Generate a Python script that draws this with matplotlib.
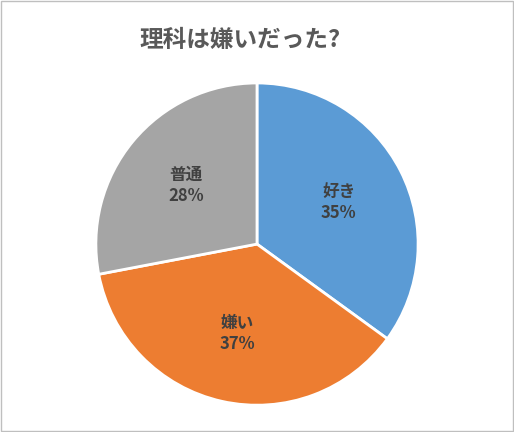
import matplotlib
matplotlib.use("Agg")
import matplotlib.pyplot as plt
from matplotlib.patches import Rectangle

plt.rcParams['font.family'] = ['Noto Sans CJK JP', 'DejaVu Sans']

categories = ["好き", "嫌い", "普通"]
values = [35, 37, 28]
colors = ["#5B9BD5", "#ED7D31", "#A5A5A5"]

fig = plt.figure(figsize=(5.14, 4.32), dpi=100)
fig.patches.append(Rectangle((0.002, 0.002), 0.996, 0.996, transform=fig.transFigure,
                             fill=False, edgecolor="#BFBFBF", linewidth=1))
ax = fig.add_axes([0.5 - 0.315, 0.435 - 0.375, 0.63, 0.75])
labels = [f"{c}\n{v}%" for c, v in zip(categories, values)]
wedges, texts = ax.pie(values, colors=colors, startangle=90, counterclock=False,
                       labels=labels, labeldistance=0.57,
                       wedgeprops=dict(edgecolor="white", linewidth=2),
                       textprops=dict(color="#404040", fontsize=12, fontweight="bold",
                                      ha="center", va="center", linespacing=1.2))
ax.set_xlim(-1.005, 1.005)
ax.set_ylim(-1.005, 1.005)
ax.set_aspect("equal")
fig.text(0.467, 0.908, "理科は嫌いだった?", ha="center", va="center",
         fontsize=17, fontweight="bold", color="#595959")
fig.savefig("out.png", dpi=100)
